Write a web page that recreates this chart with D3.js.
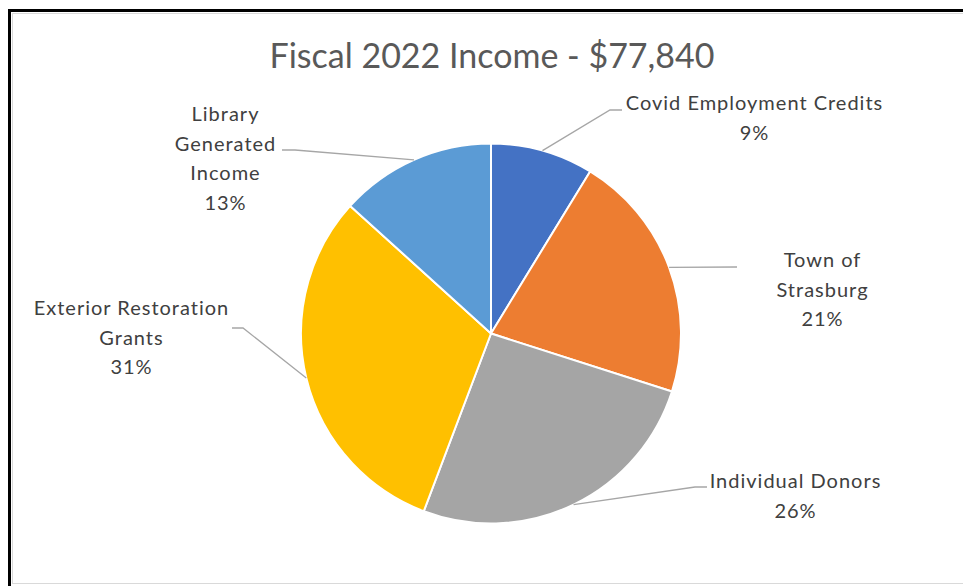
<!DOCTYPE html>
<html>
<head>
<meta charset="utf-8">
<script src="https://cdn.jsdelivr.net/npm/d3@7"></script>
<style>
  body { margin: 0; background: #fff; }
  svg { display: block; font-family: Lato, "Noto Sans", sans-serif; }
</style>
</head>
<body>
<div id="chartRegion"></div>
<script>
/* income by source, dollars (total $77,840) */
var categories = ["Covid Employment Credits", "Town of Strasburg", "Individual Donors", "Exterior Restoration Grants", "Library Generated Income"];
var amounts = [6800, 16500, 20100, 24100, 10340];
var labelLines = [
  ["Covid Employment Credits"],
  ["Town of", "Strasburg"],
  ["Individual Donors"],
  ["Exterior Restoration", "Grants"],
  ["Library", "Generated", "Income"]
];
var colors = ["#4472C4", "#ED7D31", "#A5A5A5", "#FFC000", "#5B9BD5"];
var title = "Fiscal 2022 Income - $77,840";

/* where each label block sits, and the elbow of its leader line */
var labelPos = [
  {x: 754, y: 110, leader: [[610, 110], [622, 110]]},
  {x: 822, y: 267, leader: [[737, 267]]},
  {x: 795, y: 488, leader: [[695, 487], [707, 487]]},
  {x: 131, y: 315, leader: [[243, 328], [232, 328]]},
  {x: 225, y: 121, leader: [[295, 150], [282, 150]]}
];

var W = 963, H = 586;
var cx = 491, cy = 333.5, radius = 190;
var lineH = 29.5;

var svg = d3.select("#chartRegion").append("svg").attr("width", W).attr("height", H);

/* chart frame */
svg.append("rect").attr("x", 9.5).attr("y", 10.5).attr("width", 975).attr("height", 585)
  .attr("fill", "none").attr("stroke", "#000").attr("stroke-width", 3);
svg.append("rect").attr("x", 12.5).attr("y", 13.5).attr("width", 975).attr("height", 570)
  .attr("fill", "none").attr("stroke", "#d9d9d9").attr("stroke-width", 1);

svg.append("text").attr("x", 492).attr("y", 67.5).attr("text-anchor", "middle")
  .attr("fill", "#595959").style("font-size", "34px").text(title);

var total = d3.sum(amounts);
var pie = d3.pie().sort(null).value(function(d) { return d; });
var arcs = pie(amounts);
var arc = d3.arc().innerRadius(0).outerRadius(radius);

var g = svg.append("g").attr("transform", "translate(" + cx + "," + cy + ")");
g.selectAll("path").data(arcs).enter().append("path")
  .attr("d", arc)
  .attr("fill", function(d, i) { return colors[i]; })
  .attr("stroke", "#fff").attr("stroke-width", 2).attr("stroke-linejoin", "round");

/* leader lines start at the middle of each slice's rim */
var line = d3.line();
arcs.forEach(function(d, i) {
  var mid = (d.startAngle + d.endAngle) / 2;
  var p0 = [cx + Math.sin(mid) * radius, cy - Math.cos(mid) * radius];
  var pts = [p0].concat(labelPos[i].leader);
  svg.append("path").attr("d", line(pts)).attr("fill", "none")
    .attr("stroke", "#A6A6A6").attr("stroke-width", 1.3);
});

/* data labels: name lines then percent */
arcs.forEach(function(d, i) {
  var lines = labelLines[i].concat([d3.format(".0%")(d.value / total)]);
  var t = svg.append("text").attr("text-anchor", "middle").attr("fill", "#404040")
    .style("font-size", "20px").style("letter-spacing", "1px");
  lines.forEach(function(s, k) {
    t.append("tspan").attr("x", labelPos[i].x + 0.5).attr("y", labelPos[i].y + k * lineH).text(s);
  });
});
</script>
</body>
</html>
